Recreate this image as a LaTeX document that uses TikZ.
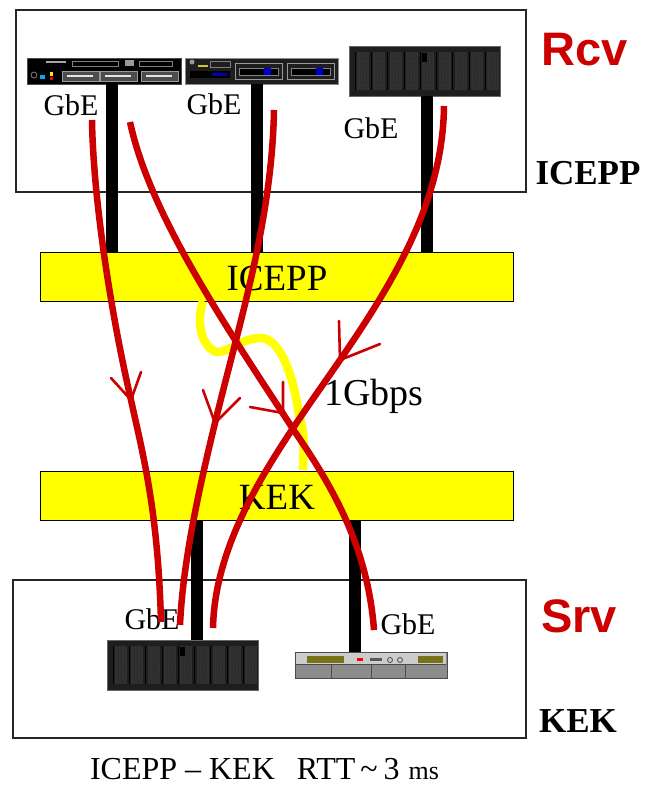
\documentclass[tikz,border=0pt]{standalone}
\usepackage{fontspec}
\setmainfont{Liberation Serif}
\newfontfamily\hdfont{Liberation Sans}
\definecolor{redl}{HTML}{CC0000}
\definecolor{yel}{HTML}{FFFF00}
\definecolor{srvd}{HTML}{1E1E1E}
\definecolor{slotd}{HTML}{303030}
\definecolor{srvg}{HTML}{8C8C8C}
\newcommand{\fs}[1]{\fontsize{#1}{#1}\selectfont}
\tikzset{
 x=1pt,y=-1pt,
 site/.style={draw=black!85,line width=1.5pt,fill=white,anchor=north west,inner sep=0,outer sep=0},
 net/.style={draw=black,line width=.9pt,fill=yel,anchor=north west,inner sep=0,outer sep=0,minimum width=473pt,minimum height=49pt},
 box/.style={anchor=north west,inner sep=0,outer sep=0,minimum width=#1},
 link/.style={line width=12pt,black},
 flow/.style={line width=6.5pt,redl,line cap=butt,line join=round},
 barb/.style={line width=2.6pt,redl,line cap=round},
 lab/.style={inner sep=0,outer sep=0,text=black},
 head/.style={inner sep=0,outer sep=0,text=redl,font=\hdfont\bfseries\fs{47}},
 side/.style={inner sep=0,outer sep=0,font=\bfseries\fs{35}},
}
\begin{document}
\begin{tikzpicture}
\useasboundingbox (0,0) rectangle (645,785);
\node[site,minimum width=510pt,minimum height=182pt] (rcvbox) at (16,10) {};
\node[site,minimum width=513pt,minimum height=158pt] (srvbox) at (13,580) {};
\node[net] (ic) at (40,252) {};
\node[net] (ke) at (40,471) {};
% yellow wire
\draw[yel,line width=8.5pt,line join=round] (203,301) .. controls (197,318) and (199,345) .. (216,352)
  .. controls (232,352) and (240,338) .. (262,338)
  .. controls (283,340) and (295,385) .. (299,415)
  .. controls (306,435) and (303,455) .. (303,470);
% servers
\node[box=154pt,minimum height=26pt,fill=black,draw=black!70] (s1) at (27,58) {};
\node[box=153pt,minimum height=26pt,fill=srvd,draw=srvg,line width=1pt] (s2) at (185,58) {};
\node[box=151pt,minimum height=50pt,fill=srvd,draw=black!60] (s3) at (349,46) {};
\node[box=151pt,minimum height=50pt,fill=srvd,draw=black!60] (s4) at (107,640) {};
\node[box=152pt,minimum height=26pt,fill=srvg,draw=black!70] (s5) at (295,652) {};
% server 1 details
\draw[gray,line width=.8pt] (72,61) rectangle (118,66) (139,61) rectangle (172,66);
\foreach \x in {62,100,141}{\draw[gray!80,line width=1pt,fill=black!70] (\x,71) rectangle +(37,10);
  \draw[white!80!gray,line width=1.5pt] (\x+5,76) -- +(26,0);}
\fill[cyan] (40,75) rectangle +(5,4);
\fill[red] (50,77) rectangle +(3,3);
\fill[yellow] (50,72) rectangle +(3,4);
\draw[gray,line width=.8pt] (34,75) circle (3);
\fill[gray!70] (46,61) rectangle +(20,2);
\fill[gray!80] (125,60) rectangle +(9,6);
% server 2 details
\fill[gray!80] (192,62) circle (2.5);
\fill[yellow!80!black] (198,65) rectangle +(10,1.5);
\draw[gray,line width=.8pt] (210,61) rectangle +(20,6);
\fill[black] (190,71) rectangle +(40,7);
\fill[blue!70!black] (212,73) rectangle +(15,3);
\foreach \x in {235,287}{\draw[gray!80,line width=1pt] (\x,63) rectangle +(47,16);
  \draw[gray,line width=.8pt,fill=black] (\x+4,68) rectangle +(39,7);
  \fill[blue!80!black] (\x+29,68) rectangle +(7,7);}
% rib patterns
\foreach \sx/\sy in {349/46,107/640}{
  \foreach \i in {0,...,8}{
    \fill[slotd] (\sx+8+\i*16.3,\sy+6) rectangle +(12,38);
    \draw[black,line width=.8pt] (\sx+6+\i*16.3,\sy+6) -- +(0,38);
    \foreach \j in {3,6,9}{\draw[black!85,line width=.4pt,dotted] (\sx+8+\i*16.3+\j,\sy+7) -- +(0,36);}}
  \fill[black] (\sx+73,\sy+7) rectangle +(5,9);}
% server 5 details
\fill[gray!40] (296,653) rectangle (446,664);
\fill[olive!80!black] (307,656) rectangle +(37,7);
\fill[olive!80!black] (418,656) rectangle +(25,7);
\fill[red] (357,658) rectangle +(6,3);
\fill[gray!70!black] (370,658) rectangle +(12,3);
\draw[black!70,line width=.8pt] (390,660) circle (2.5) (400,660) circle (2.5);
\foreach \x in {331,371,405}{\draw[black!70,line width=1pt] (\x,664) -- (\x,678);}
\draw[black!70,line width=1pt] (296,664) -- (446,664);
% links
\coordinate (l1t) at (112,84); \coordinate (l2t) at (257,84); \coordinate (l3t) at (427,96);
\coordinate (l4b) at (197,640); \coordinate (l5b) at (355,652);
\draw[link] (l1t) -- (l1t |- ic.north);
\draw[link] (l2t) -- (l2t |- ic.north);
\draw[link] (l3t) -- (l3t |- ic.north);
\draw[link] (l4b) -- (l4b |- ke.south);
\draw[link] (l5b) -- (l5b |- ke.south);
% labels
\node[lab,font=\fs{30}] (g1) at (71,105) {GbE};
\node[lab,font=\fs{30}] (g2) at (214,104) {GbE};
\node[lab,font=\fs{30}] (g3) at (371,128) {GbE};
\node[lab,font=\fs{30}] (g4) at (152,619) {GbE};
\node[lab,font=\fs{30}] (g5) at (408,624) {GbE};
\node[lab,font=\fs{37}] (ict) at (277,278) {ICEPP};
\node[lab,font=\fs{37}] (ket) at (277,497) {KEK};
\node[lab,font=\fs{38}] (gb) at (374,396) {1Gbps};
\node[head] (rcv) at (585,50) {Rcv};
\node[head] (srv) at (579,616) {Srv};
\node[side] (ics) at (588,173) {ICEPP};
\node[side] (kes) at (578,721) {KEK};
\node[lab,font=\fs{32},anchor=base west] (rtt) at (90,779) {ICEPP -- KEK\hspace{22pt}RTT\hspace{5pt}\textasciitilde\hspace{6pt}3\hspace{9pt}{\fs{26}ms}};
% red flows
\coordinate (a0) at (92,120); \coordinate (a1) at (161,622);
\coordinate (b0) at (130,122); \coordinate (b1) at (374,630);
\coordinate (c0) at (274,110); \coordinate (c1) at (180,625);
\coordinate (d0) at (444,106); \coordinate (d1) at (213,628);
\coordinate (ta) at (131,400); \coordinate (tb) at (283,413); \coordinate (bm) at (295,432);
\coordinate (tc) at (215,423); \coordinate (td) at (340,360);
\draw[flow] (a0) .. controls (93,190) and (108,300) .. (ta) .. controls (143,455) and (158,510) .. (a1);
\draw[flow] (b0) .. controls (150,215) and (225,325) .. (bm) .. controls (335,490) and (368,550) .. (b1);
\draw[flow] (c0) .. controls (272,220) and (240,320) .. (tc) .. controls (200,485) and (183,560) .. (c1);
\draw[flow] (d0) .. controls (443,200) and (395,280) .. (td) .. controls (285,440) and (215,530) .. (d1);
% arrow barbs
\draw[barb] (111,378) -- (ta) -- (141,372);
\draw[barb] (203,390) -- (tc) -- (240,398);
\draw[barb] (250,407) -- (tb) -- (283,382);
\draw[barb] (339,321) -- (td) -- (380,344);
\end{tikzpicture}
\end{document}
